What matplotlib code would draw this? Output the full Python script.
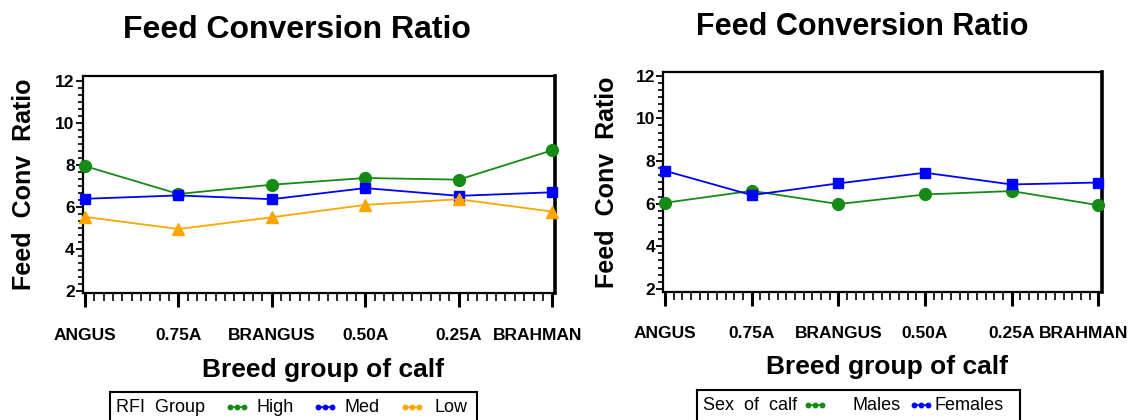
import matplotlib
matplotlib.use("Agg")
import matplotlib.pyplot as plt
from matplotlib.ticker import MultipleLocator
from matplotlib.transforms import ScaledTranslation
from matplotlib import font_manager

# ---- data -------------------------------------------------------------
breeds = ["ANGUS", "0.75A", "BRANGUS", "0.50A", "0.25A", "BRAHMAN"]

rfi_labels = ["High", "Med", "Low"]
rfi_high = [7.95, 6.62, 7.06, 7.38, 7.30, 8.70]
rfi_med = [6.39, 6.55, 6.37, 6.90, 6.53, 6.70]
rfi_low = [5.53, 4.95, 5.51, 6.10, 6.37, 5.78]

sex_labels = ["Males", "Females"]
sex_males = [6.04, 6.60, 5.98, 6.43, 6.59, 5.93]
sex_females = [7.54, 6.40, 6.95, 7.45, 6.90, 6.99]

y_ticks = [2, 4, 6, 8, 10, 12]

GREEN = "#158a15"
BLUE = "#0000ff"
ORANGE = "#ffa500"

# ---- fonts ------------------------------------------------------------
names = {f.name for f in font_manager.fontManager.ttflist}
BOLD = "Liberation Sans" if "Liberation Sans" in names else "DejaVu Sans"
plt.rcParams["font.family"] = [BOLD, "DejaVu Sans"]

W, H = 1133, 420
fig = plt.figure(figsize=(W / 100, H / 100), dpi=100)


def px_axes(x0, y0, x1, y1):
    return fig.add_axes([x0 / W, 1 - y1 / H, (x1 - x0) / W, (y1 - y0) / H])


def style_axes(ax, ylim, xlim):
    ax.set_xlim(*xlim)
    ax.set_ylim(*ylim)
    x = list(range(len(breeds)))
    ax.set_xticks(x)
    ax.set_xticklabels(breeds, fontsize=12.5, fontweight="bold")
    ax.set_yticks(y_ticks)
    ax.set_yticklabels([str(v) for v in y_ticks], fontsize=12.5, fontweight="bold")
    ax.xaxis.set_minor_locator(MultipleLocator(0.1))
    ax.yaxis.set_minor_locator(MultipleLocator(1 / 3))
    ax.tick_params(axis="x", which="major", direction="out", length=10, width=2.2, pad=15)
    ax.tick_params(axis="x", which="minor", direction="out", length=6, width=1.2)
    ax.tick_params(axis="y", which="major", direction="out", length=5, width=1.3, pad=1)
    ax.tick_params(axis="y", which="minor", direction="out", length=3.5, width=1.2)
    for side in ("left", "top", "bottom"):
        ax.spines[side].set_linewidth(1.6)
    ax.spines["right"].set_linewidth(2.6)
    # the last category label sits a little to the left of its tick
    last = ax.get_xticklabels()[-1]
    last.set_transform(last.get_transform() + ScaledTranslation(-0.15, 0, fig.dpi_scale_trans))
    ax.set_ylabel("Feed  Conv  Ratio", fontsize=18, fontweight="bold")


def series(ax, vals, color, marker, ms):
    ax.plot(range(len(vals)), vals, color=color, lw=1.3, marker=marker, ms=ms,
            mec=color, mfc=color, clip_on=False, zorder=3)


def legend_box(x0, x1, y0, title, entries):
    lax = px_axes(x0, y0, x1, y0 + 40)
    lax.set_xlim(x0, x1)
    lax.set_ylim(0, 40)
    lax.invert_yaxis()
    lax.set_xticks([])
    lax.set_yticks([])
    for s in lax.spines.values():
        s.set_linewidth(1.5)
    ty = 16
    lax.text(x0 + 6, ty, title, fontsize=13, va="center", ha="left")
    for (mx, color, tx, label) in entries:
        lax.plot([mx - 7, mx, mx + 7], [ty - 1, ty - 1, ty - 1], color=color, lw=1.2,
                 marker="o", ms=3.2, mec=color, mfc=color)
        lax.text(tx, ty, label, fontsize=13, va="center", ha="left")


# ---- left panel: RFI group -------------------------------------------
ax1 = px_axes(83, 75.7, 555, 293)
style_axes(ax1, (1.905, 12.25), (-0.02, 5.03))
series(ax1, rfi_high, GREEN, "o", 8.5)
series(ax1, rfi_med, BLUE, "s", 7.5)
series(ax1, rfi_low, ORANGE, "^", 8.5)
ax1.yaxis.set_label_coords((36 - 83) / 472, 0.5)

fig.text(297 / W, 1 - 38 / H, "Feed Conversion Ratio", fontsize=23, fontweight="bold",
         ha="center", va="baseline")
fig.text(323 / W, 1 - 377 / H, "Breed group of calf", fontsize=19, fontweight="bold",
         ha="center", va="baseline")
legend_box(110, 477, 392, "RFI  Group",
           [(237, GREEN, 257, rfi_labels[0]),
            (325, BLUE, 345, rfi_labels[1]),
            (412, ORANGE, 434, rfi_labels[2])])

# ---- right panel: sex of calf ----------------------------------------
ax2 = px_axes(663.3, 72.3, 1101.7, 291.7)
style_axes(ax2, (1.87, 12.16), (-0.02, 5.04))
series(ax2, sex_males, GREEN, "o", 8.5)
series(ax2, sex_females, BLUE, "s", 7.5)
ax2.yaxis.set_label_coords((619 - 663.3) / 438.4, 0.5)

fig.text(862 / W, 1 - 35 / H, "Feed Conversion Ratio", fontsize=22, fontweight="bold",
         ha="center", va="baseline")
fig.text(887 / W, 1 - 374 / H, "Breed group of calf", fontsize=19, fontweight="bold",
         ha="center", va="baseline")
legend_box(697, 1020, 390, "Sex  of  calf",
           [(815, GREEN, 853, sex_labels[0]),
            (921, BLUE, 935, sex_labels[1])])

fig.savefig("out.png", dpi=100)
